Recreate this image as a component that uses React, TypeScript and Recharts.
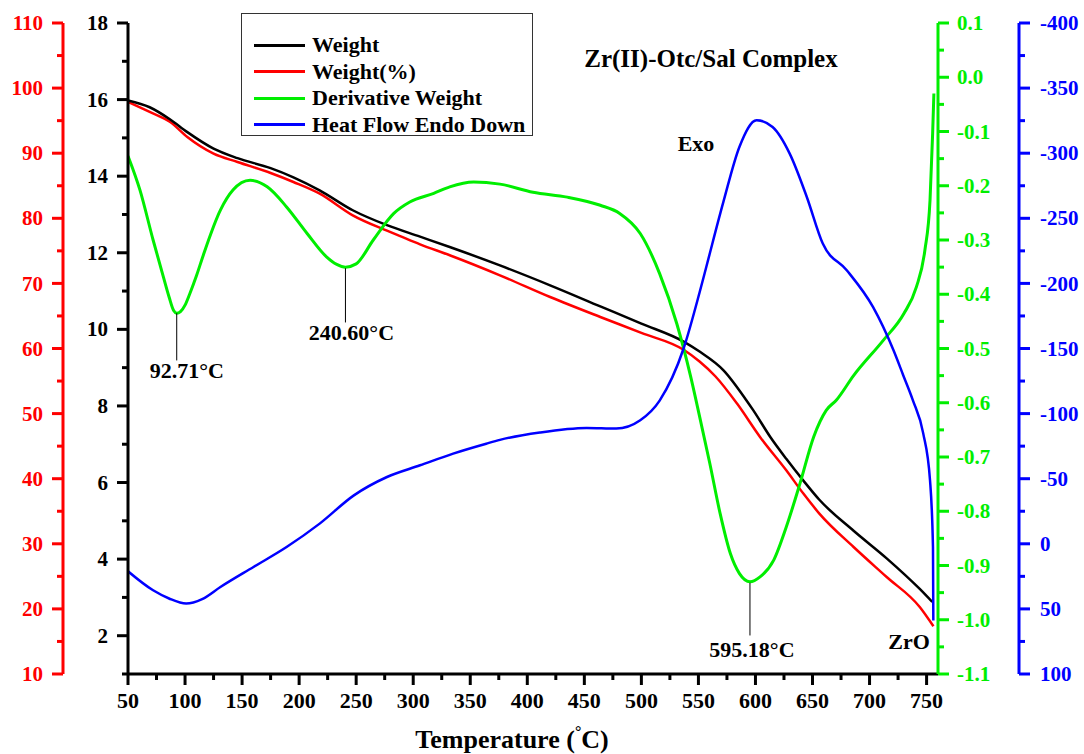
import React from 'react';
import { LineChart, Line, XAxis, YAxis, Legend, ReferenceLine, Customized } from 'recharts';

const FONT = '"Liberation Serif", "Times New Roman", Times, serif';

// ---- Temperature axis ----
const X_MAJOR = [50, 100, 150, 200, 250, 300, 350, 400, 450, 500, 550, 600, 650, 700, 750];
const X_MINOR = [75, 125, 175, 225, 275, 325, 375, 425, 475, 525, 575, 625, 675, 725];

// ---- Value axes ----
const W_MAJOR = [2, 4, 6, 8, 10, 12, 14, 16, 18];
const W_MINOR = [1, 3, 5, 7, 9, 11, 13, 15, 17];
const P_MAJOR = [10, 20, 30, 40, 50, 60, 70, 80, 90, 100, 110];
const P_MINOR = [15, 25, 35, 45, 55, 65, 75, 85, 95, 105];
const D_MAJOR = [-1.1, -1.0, -0.9, -0.8, -0.7, -0.6, -0.5, -0.4, -0.3, -0.2, -0.1, 0.0, 0.1];
const D_MINOR = [-1.05, -0.95, -0.85, -0.75, -0.65, -0.55, -0.45, -0.35, -0.25, -0.15, -0.05, 0.05];
const H_MAJOR = [100, 50, 0, -50, -100, -150, -200, -250, -300, -350, -400];
const H_MINOR = [75, 25, -25, -75, -125, -175, -225, -275, -325, -375];

// ---- Weight (mg) ----
const weightTemp = [50, 69, 87, 102, 125, 146, 175, 195, 218, 247, 277, 306, 332, 376, 420, 464, 500, 537, 551, 572, 592, 598, 613, 627, 642, 656, 686, 715, 744, 755];
const weightMg = [15.98, 15.8, 15.48, 15.15, 14.72, 14.47, 14.21, 13.97, 13.63, 13.11, 12.72, 12.42, 12.15, 11.67, 11.15, 10.6, 10.15, 9.68, 9.42, 8.93, 8.15, 7.89, 7.19, 6.62, 6.05, 5.55, 4.74, 4.02, 3.22, 2.88];

// ---- Weight (%) ----
const pctTemp = [50, 69, 87, 102, 125, 146, 175, 195, 218, 247, 277, 288, 306, 332, 376, 420, 464, 500, 537, 551, 565, 584, 604, 627, 642, 656, 686, 715, 744, 756];
const weightPct = [97.9, 96.33, 94.79, 92.49, 89.94, 88.65, 86.96, 85.58, 83.79, 80.46, 78.1, 77.3, 76.0, 74.32, 71.24, 67.91, 64.84, 62.4, 59.8, 58.0, 55.7, 51.5, 46.41, 41.29, 37.71, 34.64, 29.51, 24.9, 20.29, 17.33];

// ---- Derivative weight ----
const derivTemp = [50, 60.5, 72, 81, 86, 90, 92.71, 96, 100, 104, 110, 116, 131, 142, 157, 172, 189, 207, 224, 233, 240.6, 250, 265, 283, 297, 318, 332, 353, 376, 405, 435, 464, 481, 499, 516, 531, 543, 551, 560, 569, 578, 586, 595.18, 604, 616, 627, 639, 651, 662, 671, 686, 712, 730, 741, 748.5, 753, 755.3, 756.4];
const derivWeight = [-0.145, -0.208, -0.3, -0.368, -0.405, -0.43, -0.435, -0.432, -0.42, -0.4, -0.366, -0.328, -0.245, -0.208, -0.19, -0.202, -0.239, -0.288, -0.331, -0.345, -0.35, -0.344, -0.3, -0.251, -0.23, -0.214, -0.202, -0.193, -0.197, -0.212, -0.221, -0.236, -0.251, -0.288, -0.362, -0.454, -0.55, -0.625, -0.712, -0.804, -0.878, -0.915, -0.93, -0.921, -0.89, -0.829, -0.749, -0.663, -0.614, -0.595, -0.55, -0.485, -0.436, -0.387, -0.319, -0.227, -0.104, -0.03];

// ---- Heat flow ----
const heatTemp = [50, 72, 86, 101, 115, 131, 160, 189, 218, 248, 277, 306, 335, 364, 376, 411, 452, 478, 499, 516, 537, 551, 557, 572, 586, 601, 615, 630, 645, 659, 680, 703, 721, 729.5, 738, 747, 753, 755.6, 755.9];
const heatFlow = [21.1, 35.7, 42, 45.9, 42.5, 33.2, 17.8, 2.5, -15.5, -37.2, -51.3, -60.3, -69.3, -76.9, -79.8, -85.5, -89, -88.5, -94.9, -110, -150, -193, -213, -263, -305, -325.3, -320.1, -299.7, -266.4, -230.6, -210.1, -181.9, -148.6, -129.5, -110.2, -85, -48.8, 2.5, 58.9];

// ---- Peak annotations (temperature, top of leader, bottom of leader) ----
const peakTemps = [92.71, 240.6, 595.18];
const peakTop = [-0.435, -0.352, -0.932];
const peakBottom = [-0.522, -0.452, -1.029];

const zip = (xs: number[], ys: number[]) => xs.map((t, i) => ({ t, v: ys[i] }));

const BLACK = '#000000';
const RED = '#ff0000';
const GREEN = '#00ee00';
const BLUE = '#0000ff';

const series = [
  { key: 'w', name: 'Weight', color: BLACK },
  { key: 'p', name: 'Weight(%)', color: RED },
  { key: 'd', name: 'Derivative Weight', color: GREEN },
  { key: 'h', name: 'Heat Flow Endo Down', color: BLUE },
];

const isIn = (arr: number[], v: number) => arr.some((m) => Math.abs(m - v) < 1e-6);

const makeYTick =
  (side: 'left' | 'right', color: string, majors: number[], fmt: (v: number) => string, gap: number) =>
  (props: any) => {
    const { x, y, payload } = props;
    const v = payload.value as number;
    const major = isIn(majors, v);
    const len = major ? 11 : 6;
    const dir = side === 'left' ? -1 : 1;
    return (
      <g>
        <line x1={x} y1={y} x2={x + dir * len} y2={y} stroke={color} strokeWidth={3} />
        {major && (
          <text
            x={x + dir * (11 + gap)}
            y={y}
            dy="0.34em"
            textAnchor={side === 'left' ? 'end' : 'start'}
            fill={color}
            fontFamily={FONT}
            fontWeight="bold"
            fontSize={21}
          >
            {fmt(v)}
          </text>
        )}
      </g>
    );
  };

const XTick = (props: any) => {
  const { x, y, payload } = props;
  const v = payload.value as number;
  const major = isIn(X_MAJOR, v);
  return (
    <g>
      <line x1={x} y1={y} x2={x} y2={y + (major ? 11 : 6)} stroke={BLACK} strokeWidth={3} />
      {major && (
        <text x={x} y={y + 34} textAnchor="middle" fill={BLACK} fontFamily={FONT} fontWeight="bold" fontSize={22}>
          {v}
        </text>
      )}
    </g>
  );
};

const LegendBox = () => (
  <div
    style={{
      width: 292,
      height: 123,
      border: '1px solid #333',
      boxSizing: 'border-box',
      position: 'relative',
      background: '#fff',
    }}
  >
    {series.map((s, i) => (
      <div
        key={s.key}
        style={{
          position: 'absolute',
          left: 12,
          top: 31.3 + i * 26.5 - 14,
          height: 28,
          display: 'flex',
          alignItems: 'center',
          whiteSpace: 'nowrap',
        }}
      >
        <span style={{ display: 'inline-block', width: 51, height: 3, background: s.color }} />
        <span
          style={{
            marginLeft: 7,
            fontFamily: FONT,
            fontWeight: 'bold',
            fontSize: 22,
            color: '#000',
            lineHeight: '28px',
          }}
        >
          {s.name}
        </span>
      </div>
    ))}
  </div>
);

const peakLabel = (text: string, dx: number, dy: number) => (props: any) => {
  const vb = props.viewBox || {};
  const bx = (vb.x ?? 0) + (vb.width ?? 0) / 2;
  const by = (vb.y ?? 0) + (vb.height ?? 0);
  return (
    <text x={bx + dx} y={by + dy} textAnchor="middle" fill={BLACK} fontFamily={FONT} fontWeight="bold" fontSize={22}>
      {text}
    </text>
  );
};

const peakNames = ['92.71°C', '240.60°C', '595.18°C'];
const peakOffsets = [
  [10, 18],
  [6, 18],
  [2, 22],
];

const Annotations = () => (
  <g fontFamily={FONT} fontWeight="bold" fill={BLACK}>
    <text x={711} y={67} textAnchor="middle" fontSize={25}>
      Zr(II)-Otc/Sal Complex
    </text>
    <text x={696} y={151} textAnchor="middle" fontSize={22}>
      Exo
    </text>
    <text x={909} y={649} textAnchor="middle" fontSize={22}>
      ZrO
    </text>
    <text x={512} y={748} textAnchor="middle" fontSize={26}>
      Temperature (
      <tspan fontSize={16} dy={-11}>
        °
      </tspan>
      <tspan dy={11}>C)</tspan>
    </text>
  </g>
);

export default function App() {
  return (
    <div style={{ position: 'absolute', left: 0, top: 0, width: 1084, height: 754, background: '#fff' }}>
      <LineChart width={1084} height={754} margin={{ top: 23, right: 0, bottom: 0, left: 0 }}>
        <XAxis
          dataKey="t"
          type="number"
          domain={[50, 760]}
          ticks={[...X_MAJOR, ...X_MINOR].sort((a, b) => a - b)}
          interval={0}
          height={80}
          tickSize={0}
          tickMargin={0}
          tickLine={false}
          tick={XTick}
          axisLine={{ stroke: BLACK, strokeWidth: 3 }}
          allowDataOverflow
        />
        {/* mass axis sits next to the plot, percent axis outside it */}
        <YAxis
          yAxisId="mass"
          orientation="left"
          type="number"
          domain={[1, 18]}
          ticks={[...W_MAJOR, ...W_MINOR].sort((a, b) => a - b)}
          interval={0}
          width={65}
          tickSize={0}
          tickMargin={0}
          tickLine={false}
          tick={makeYTick('left', BLACK, W_MAJOR, (v) => String(v), 9)}
          axisLine={{ stroke: BLACK, strokeWidth: 3 }}
          allowDataOverflow
        />
        <YAxis
          yAxisId="pct"
          orientation="left"
          type="number"
          domain={[10, 110]}
          ticks={[...P_MAJOR, ...P_MINOR].sort((a, b) => a - b)}
          interval={0}
          width={63}
          tickSize={0}
          tickMargin={0}
          tickLine={false}
          tick={makeYTick('left', RED, P_MAJOR, (v) => String(v), 9)}
          axisLine={{ stroke: RED, strokeWidth: 3 }}
          allowDataOverflow
        />
        <YAxis
          yAxisId="d"
          orientation="right"
          type="number"
          domain={[-1.1, 0.1]}
          ticks={[...D_MAJOR, ...D_MINOR].sort((a, b) => a - b)}
          interval={0}
          width={81}
          tickSize={0}
          tickMargin={0}
          tickLine={false}
          tick={makeYTick('right', GREEN, D_MAJOR, (v) => v.toFixed(1), 8)}
          axisLine={{ stroke: GREEN, strokeWidth: 3 }}
          allowDataOverflow
        />
        <YAxis
          yAxisId="h"
          orientation="right"
          type="number"
          domain={[-400, 100]}
          reversed
          ticks={[...H_MAJOR, ...H_MINOR].sort((a, b) => a - b)}
          interval={0}
          width={65}
          tickSize={0}
          tickMargin={0}
          tickLine={false}
          tick={makeYTick('right', BLUE, H_MAJOR, (v) => String(v), 10)}
          axisLine={{ stroke: BLUE, strokeWidth: 3 }}
          allowDataOverflow
        />

        <Line yAxisId="pct" data={zip(pctTemp, weightPct)} dataKey="v" name="Weight(%)" type="monotone" stroke={RED} strokeWidth={2.5} dot={false} isAnimationActive={false} />
        <Line yAxisId="mass" data={zip(weightTemp, weightMg)} dataKey="v" name="Weight" type="monotone" stroke={BLACK} strokeWidth={2.5} dot={false} isAnimationActive={false} />
        <Line yAxisId="d" data={zip(derivTemp, derivWeight)} dataKey="v" name="Derivative Weight" type="monotone" stroke={GREEN} strokeWidth={3} dot={false} isAnimationActive={false} />
        <Line yAxisId="h" data={zip(heatTemp, heatFlow)} dataKey="v" name="Heat Flow Endo Down" type="monotone" stroke={BLUE} strokeWidth={2.5} dot={false} isAnimationActive={false} />

        {peakTemps.map((t, i) => (
          <ReferenceLine
            key={t}
            yAxisId="d"
            segment={[
              { x: t, y: peakTop[i] },
              { x: t, y: peakBottom[i] },
            ]}
            stroke={BLACK}
            strokeWidth={1}
            label={peakLabel(peakNames[i], peakOffsets[i][0], peakOffsets[i][1])}
          />
        ))}

        <Legend
          layout="vertical"
          align="center"
          verticalAlign="middle"
          content={<LegendBox />}
          wrapperStyle={{ position: 'absolute', left: 241, top: 13, width: 292, height: 123 }}
        />
        <Customized component={Annotations} />
      </LineChart>
    </div>
  );
}
